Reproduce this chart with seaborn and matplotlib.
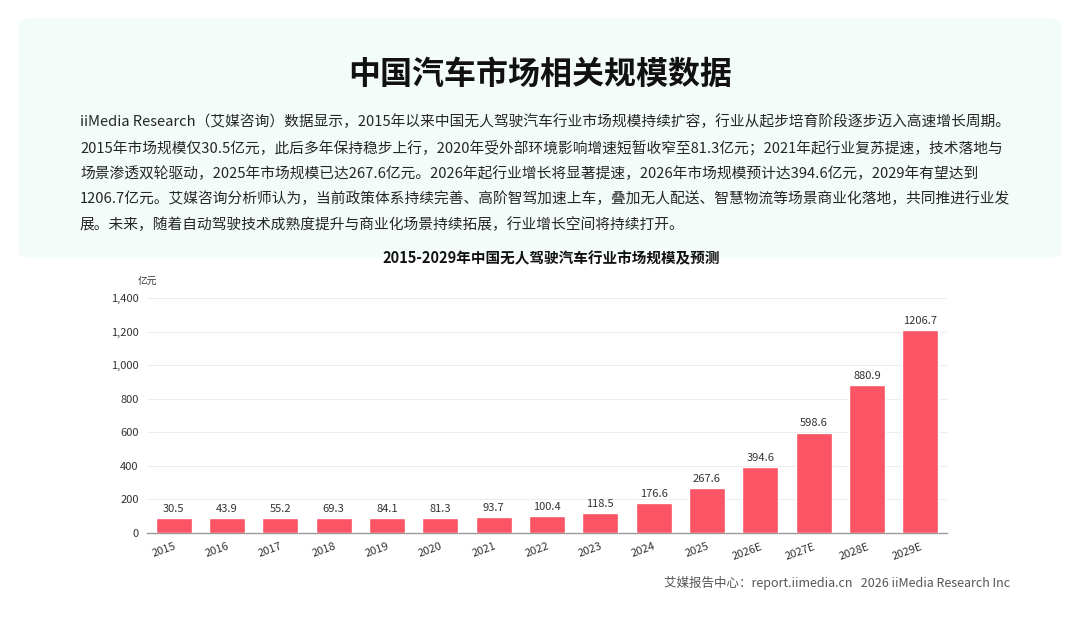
import matplotlib
matplotlib.use("Agg")
import matplotlib.pyplot as plt
from matplotlib.patches import FancyBboxPatch
import seaborn as sns
import pandas as pd
import numpy as np

years = ["2015", "2016", "2017", "2018", "2019", "2020", "2021", "2022",
         "2023", "2024", "2025", "2026E", "2027E", "2028E", "2029E"]
values = [30.5, 43.9, 55.2, 69.3, 84.1, 81.3, 93.7, 100.4,
          118.5, 176.6, 267.6, 394.6, 598.6, 880.9, 1206.7]
y_ticks = [0, 200, 400, 600, 800, 1000, 1200, 1400]

title = "中国汽车市场相关规模数据"
paragraph = [
    "iiMedia Research（艾媒咨询）数据显示，2015年以来中国无人驾驶汽车行业市场规模持续扩容，行业从起步培育阶段逐步迈入高速增长周期。",
    "2015年市场规模仅30.5亿元，此后多年保持稳步上行，2020年受外部环境影响增速短暂收窄至81.3亿元；2021年起行业复苏提速，技术落地与",
    "场景渗透双轮驱动，2025年市场规模已达267.6亿元。2026年起行业增长将显著提速，2026年市场规模预计达394.6亿元，2029年有望达到",
    "1206.7亿元。艾媒咨询分析师认为，当前政策体系持续完善、高阶智驾加速上车，叠加无人配送、智慧物流等场景商业化落地，共同推进行业发",
    "展。未来，随着自动驾驶技术成熟度提升与商业化场景持续拓展，行业增长空间将持续打开。",
]
chart_title = "2015-2029年中国无人驾驶汽车行业市场规模及预测"
unit = "亿元"
footer = "艾媒报告中心：report.iimedia.cn   2026 iiMedia Research Inc"

# the source chart enforces a minimum visible bar height
min_bar = 90
display = np.maximum(np.array(values), min_bar)

sns.set_theme(style="white")
plt.rcParams["font.family"] = ["Noto Sans CJK SC", "DejaVu Sans"]

W, H = 1080, 622
fig = plt.figure(figsize=(W / 100, H / 100), dpi=100)
fig.patch.set_facecolor("white")

# light mint header panel
panel = FancyBboxPatch((18 / W, 1 - 258 / H), (1062 - 18) / W, (258 - 18) / H,
                       boxstyle="round,pad=0,rounding_size=0.012",
                       transform=fig.transFigure, facecolor="#F4FCFA",
                       edgecolor="none", zorder=0)
fig.patches.append(panel)

fig.text(540 / W, 1 - 75 / H, title, ha="center", va="center",
         fontsize=23, fontweight="heavy", color="#111111")

line_y = [122, 148, 174, 199, 225]
for txt, yy in zip(paragraph, line_y):
    fig.text(80 / W, 1 - yy / H, txt, ha="left", va="center",
             fontsize=10.6, color="#262626")

fig.text(551 / W, 1 - 258 / H, chart_title, ha="center", va="center",
         fontsize=10.5, fontweight="bold", color="#111111")

ax = fig.add_axes([147 / W, 89 / H, 800 / W, 235 / H])
df = pd.DataFrame({"year": years, "value": display})
sns.barplot(data=df, x="year", y="value", color="#FA5465", width=0.68,
            saturation=1, ax=ax, zorder=3)

ax.bar_label(ax.containers[0], labels=[f"{v:g}" for v in values],
             padding=3, fontsize=8, color="#333333")

ax.set_ylim(0, 1400)
ax.set_xlim(-0.5, len(years) - 0.5)
ax.set_yticks(y_ticks)
ax.set_yticklabels([f"{t:,}" for t in y_ticks], fontsize=8, color="#333333")
ax.set_xticks(range(len(years)))
ax.set_xticklabels(years, rotation=20, ha="right", rotation_mode="anchor",
                   fontsize=8, color="#333333")
ax.tick_params(axis="x", length=0, pad=6)
ax.tick_params(axis="y", length=0, pad=6)
ax.set_xlabel("")
ax.set_ylabel("")
ax.grid(axis="y", color="#EDEDED", linewidth=0.8, zorder=0)
ax.grid(axis="x", visible=False)
for s in ["top", "right", "left"]:
    ax.spines[s].set_visible(False)
ax.spines["bottom"].set_color("#9A9A9A")
ax.spines["bottom"].set_linewidth(1.0)
ax.set_facecolor("none")

fig.text(147 / W, 1 - 282 / H, unit, ha="center", va="center",
         fontsize=7, color="#333333")

fig.text(1010 / W, 1 - 583 / H, footer, ha="right", va="center",
         fontsize=9, color="#555555")

fig.savefig("out.png", dpi=100, facecolor="white")
